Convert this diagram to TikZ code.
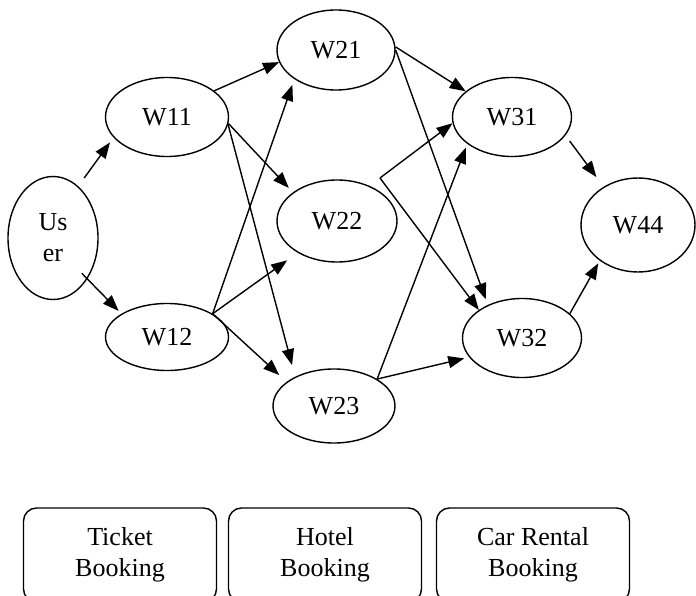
\documentclass[tikz,border=0pt]{standalone}
\usepackage{fontspec}
\setmainfont{Liberation Serif}
\usetikzlibrary{shapes.geometric,arrows.meta}

\begin{document}
\begin{tikzpicture}[x=1pt, y=-1pt,
  svc/.style={ellipse, draw=black, line width=1.4pt, inner sep=0pt, align=center,
    font=\fontsize{26}{31}\selectfont},
  bookbox/.style={rectangle, draw=black, line width=1.4pt, rounded corners=13pt,
    minimum width=193pt, minimum height=94pt, align=center,
    font=\fontsize{26}{31}\selectfont},
  link/.style={line width=1.4pt, -{Triangle[length=16pt,width=12pt]}}]
  \useasboundingbox (0,0) rectangle (696,596);

  % Usuario
  \node[svc, minimum width=90pt, minimum height=123pt] (user) at (53,238) {Us\\er};

  % Servicios web
  \foreach \n/\x/\y/\w/\h in {W11/167/117/123/79, W12/167/337/123/67,
                              W21/336/50/118/80, W22/337/221/120/82, W23/334/406/122/74,
                              W31/512/117/119/79, W32/522/338/119/79, W44/638/225/114/94}
    \node[svc, minimum width=\w pt, minimum height=\h pt] (\n) at (\x,\y) {\n};

  \coordinate (w22out) at (380,178);

  % Conexiones
  \draw[link, shorten <=10pt, shorten >=6pt] (user.64) -- (W11.201);
  \draw[link, shorten <=-8pt, shorten >=4pt] (user.310) -- (W12.153);

  \draw[link] (W11.29) -- (W21.192);
  \draw[link, shorten >=6pt] (W11.354) -- (W22.147);
  \draw[link, shorten >=12pt] (W11.353) -- (W23.143);

  \draw[link, shorten >=6pt] (W12.27) -- (W21.215);
  \draw[link, shorten >=13pt] (W12.27) -- (W22.219);
  \draw[link, shorten >=10pt] (W12.27) -- (W23.153);

  \draw[link] (W21.3) -- (W31.151);
  \draw[link, shorten >=6pt] (W21.0) -- (W32.136);

  \draw[link] (w22out) -- (W31.186);
  \draw[link] (w22out) -- (W32.147);

  \draw[link, shorten >=4pt] (W23.32) -- (W31.211);
  \draw[link, shorten >=5pt] (W23.32) -- (W32.200);

  \draw[link, shorten <=7pt, shorten >=12pt] (W31.341) -- (W44.132);
  \draw[link, shorten >=3pt] (W32.27) -- (W44.223);

  % Reservas
  \node[bookbox] (ticket) at (120,555) {Ticket\\Booking};
  \node[bookbox] (hotel) at (325,555) {Hotel\\Booking};
  \node[bookbox] (car) at (533,555) {Car Rental\\Booking};

\end{tikzpicture}
\end{document}
